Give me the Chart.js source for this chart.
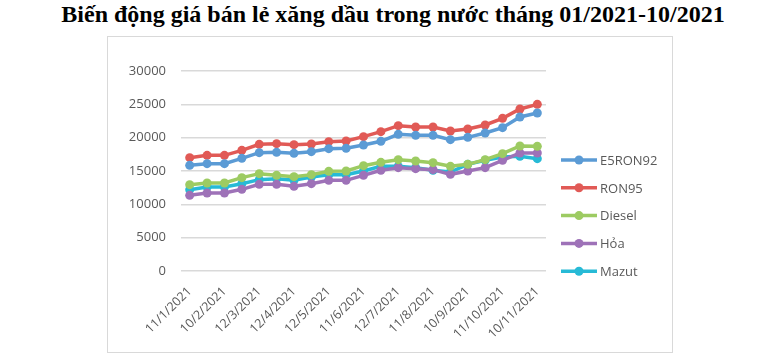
<!DOCTYPE html>
<html>
<head>
<meta charset="utf-8">
<script src="https://cdn.jsdelivr.net/npm/chart.js@4.4.1/dist/chart.umd.min.js"></script>
<style>
  html, body { margin: 0; padding: 0; background: #ffffff; width: 770px; height: 356px; overflow: hidden; }
  #title { position: absolute; left: 0; top: 1px; width: 786px; text-align: center;
    font-family: "Liberation Serif", "DejaVu Serif", serif; font-weight: bold; font-size: 24px; color: #000; }
  #box { position: absolute; left: 107px; top: 36px; width: 564px; height: 315px; border: 1px solid #d9d9d9; }
  #c { display: block; }
</style>
</head>
<body>
<div id="title">Biến động giá bán lẻ xăng dầu trong nước tháng 01/2021-10/2021</div>
<div id="box"><canvas id="c" width="564" height="315"></canvas></div>
<script>
const categories = ["11/1/2021","26/1/2021","10/2/2021","25/2/2021","12/3/2021","27/3/2021","12/4/2021","27/4/2021","12/5/2021","27/5/2021","11/6/2021","26/6/2021","12/7/2021","27/7/2021","11/8/2021","26/8/2021","10/9/2021","25/9/2021","11/10/2021","26/10/2021","10/11/2021"];
const seriesNames = ["E5RON92","RON95","Diesel","Hỏa","Mazut"];
const e5ron92 = [15850,16100,16100,16900,17750,17800,17650,17900,18350,18400,18900,19450,20500,20350,20350,19700,20050,20700,21500,23100,23700];
const ron95   = [17000,17350,17350,18100,19000,19100,18950,19050,19400,19500,20150,20900,21800,21600,21600,21000,21300,21900,22900,24300,25000];
const diesel  = [12950,13200,13200,14000,14600,14350,14150,14450,14950,15000,15800,16300,16700,16500,16250,15700,16000,16700,17600,18750,18700];
const hoa     = [11350,11700,11700,12250,13000,13000,12700,13100,13600,13600,14350,15100,15500,15350,15200,14500,15000,15500,16600,17700,17700];
const mazut   = [12200,12600,12600,13100,13700,13850,13600,14100,14450,14450,15000,15700,15700,15500,15100,14850,16000,16600,17100,17200,16850];
const yTicks = [0,5000,10000,15000,20000,25000,30000];
const colors = ["#5B9BD5","#E15A56","#9DCB62","#9E72B8","#27BAD6"];

const allSeries = [e5ron92, ron95, diesel, hoa, mazut];
const datasets = allSeries.map((d, i) => ({
  label: seriesNames[i],
  data: d,
  borderColor: colors[i],
  backgroundColor: colors[i],
  pointBackgroundColor: colors[i],
  pointBorderColor: colors[i],
  borderWidth: 3.5,
  pointRadius: 4.5,
  pointBorderWidth: 0,
  tension: 0,
  fill: false
}));

const legendPlugin = {
  id: 'sideLegend',
  afterDraw(chart) {
    const ctx = chart.ctx;
    const x0 = chart.chartArea.right + 15;
    const y0 = 123, step = 27.8;
    ctx.save();
    chart.data.datasets.forEach((ds, i) => {
      const y = y0 + i * step;
      ctx.strokeStyle = ds.borderColor;
      ctx.lineWidth = 3.5;
      ctx.beginPath(); ctx.moveTo(x0, y); ctx.lineTo(x0 + 36, y); ctx.stroke();
      ctx.fillStyle = ds.borderColor;
      ctx.beginPath(); ctx.arc(x0 + 18, y, 4.5, 0, Math.PI * 2); ctx.fill();
      ctx.fillStyle = '#595959';
      ctx.font = '13px "Open Sans", sans-serif';
      ctx.textBaseline = 'middle';
      ctx.textAlign = 'left';
      ctx.fillText(ds.label, x0 + 39, y + 1);
    });
    ctx.restore();
  }
};

new Chart(document.getElementById('c'), {
  type: 'line',
  data: { labels: categories, datasets },
  options: {
    responsive: false,
    animation: false,
    devicePixelRatio: 1,
    layout: { padding: { top: 34, left: 0, right: 126, bottom: 0 } },
    plugins: { legend: { display: false }, tooltip: { enabled: false }, title: { display: false } },
    scales: {
      x: {
        offset: true,
        grid: { display: false, drawTicks: false },
        border: { display: false },
        ticks: {
          autoSkip: false,
          maxRotation: 45, minRotation: 45,
          padding: 13,
          color: '#595959',
          font: { family: '"Open Sans", sans-serif', size: 12.5 },
          callback: (v, i) => (i % 2 === 0 ? categories[i] : '')
        },
        afterFit: (s) => { s.height = 81; }
      },
      y: {
        min: 0, max: 30000,
        afterBuildTicks: (s) => { s.ticks = yTicks.map(v => ({ value: v })); },
        grid: { color: '#d9d9d9', lineWidth: 1.5, drawTicks: false },
        border: { display: false },
        ticks: {
          padding: 15,
          color: '#595959',
          font: { family: '"Open Sans", sans-serif', size: 13 },
          callback: (v) => String(v)
        },
        afterFit: (s) => { s.width = 73; }
      }
    }
  },
  plugins: [legendPlugin]
});
</script>
</body>
</html>
